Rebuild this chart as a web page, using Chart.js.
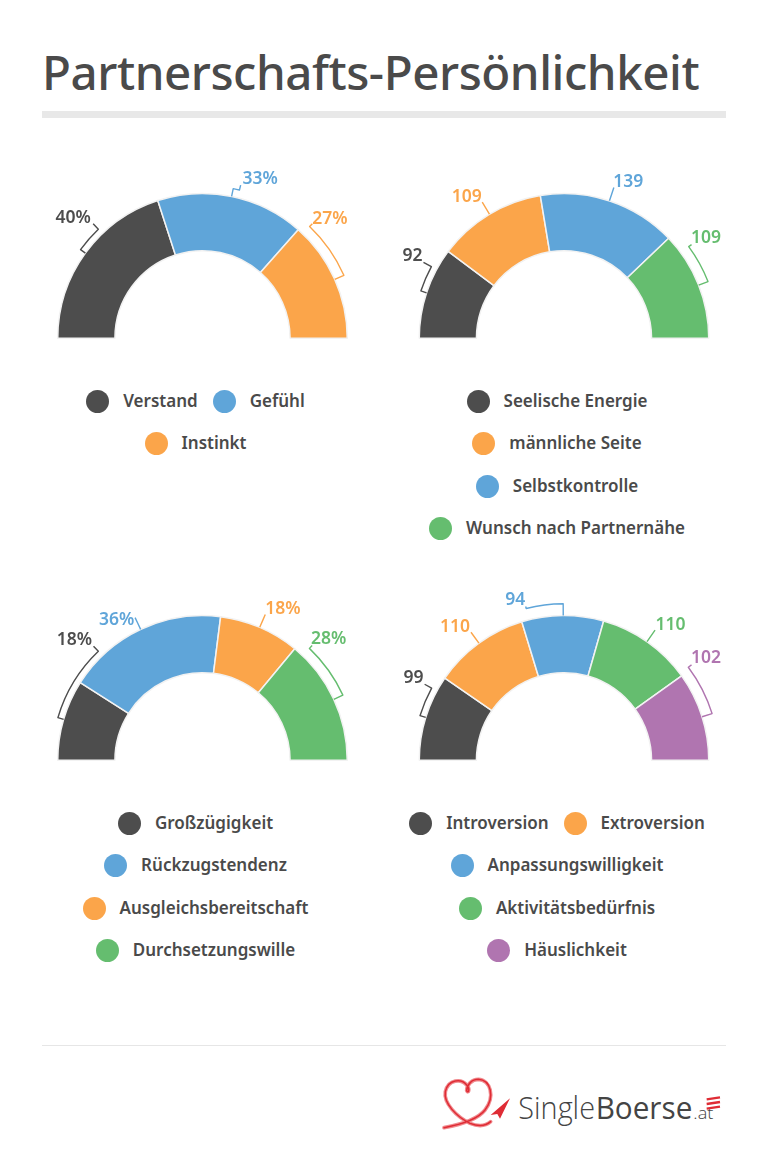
<!DOCTYPE html>
<html lang="de">
<head>
<meta charset="utf-8">
<title>Partnerschafts-Persönlichkeit</title>
<script src="https://cdn.jsdelivr.net/npm/chart.js@4"></script>
<style>
  html, body { margin: 0; padding: 0; background: #fff; }
  body { position: relative; width: 768px; height: 1166px; overflow: hidden; font-family: "Noto Sans", sans-serif; color: #4a4a4a; }
  h1 { position: absolute; left: 42px; top: 37px; margin: 0; font-size: 47.5px; line-height: 70px; font-weight: 500; letter-spacing: -0.45px; white-space: nowrap; }
  .rule { position: absolute; left: 42px; width: 684px; }
  .rule.top { top: 111px; height: 7px; background: #e8e8e8; }
  .rule.bottom { top: 1045px; height: 1px; background: #e6e6e6; }
  canvas { position: absolute; }
  .legend { position: absolute; width: 320px; display: flex; flex-wrap: wrap; justify-content: center; gap: 19.6px 15px; font-size: 17px; font-weight: 600; line-height: 23px; }
  .legend div { display: flex; white-space: nowrap; }
  .legend i { width: 23px; height: 23px; border-radius: 50%; margin-right: 14px; }
  .legend span { position: relative; top: -1px; }
  svg { position: absolute; left: 420px; top: 1060px; }
</style>
</head>
<body>
<h1>Partnerschafts-Persönlichkeit</h1>
<div class="rule top"></div>

<canvas id="chart1"></canvas>
<canvas id="chart2"></canvas>
<canvas id="chart3"></canvas>
<canvas id="chart4"></canvas>
<div class="legend" id="legend1"></div>
<div class="legend" id="legend2"></div>
<div class="legend" id="legend3"></div>
<div class="legend" id="legend4"></div>

<div class="rule bottom"></div>
<svg width="320" height="90" viewBox="0 0 960 270">
  <g fill="none" stroke-linecap="round">
    <path d="M72 203 C110 196 170 182 195 150 C226 110 212 60 175 58 C155 58 140 75 140 92 C144 102 152 88 140 75 C125 56 85 56 76 95 C70 130 110 170 150 190 C170 198 195 200 212 185" stroke="#f08a8e" stroke-width="11"/>
    <path d="M72 203 C110 196 170 182 195 150 C226 110 212 60 175 58 C155 58 140 75 140 92 C144 102 152 88 140 75 C125 56 85 56 76 95 C70 130 110 170 150 190 C170 198 195 200 212 185" stroke="#df2c35" stroke-width="4.5"/>
  </g>
  <path d="M270 115 L212 165 L232 162 L240 176 Z" fill="#df2c35"/>
  <g font-family="Open Sans, sans-serif" fill="#444">
    <text x="295" y="178" font-size="94" font-weight="300" textLength="230" lengthAdjust="spacingAndGlyphs">Single</text>
    <text x="527" y="178" font-size="94" font-weight="400" textLength="290" lengthAdjust="spacingAndGlyphs">Boerse</text>
    <text x="820" y="178" font-size="48" font-weight="300" textLength="60" lengthAdjust="spacingAndGlyphs">.at</text>
  </g>
  <path d="M860 118 L900 112 M860 132 L900 126 M860 146 L900 140" stroke="#df2c35" stroke-width="7" fill="none"/>
</svg>

<script>
// colours used in the picture
const dark = '#4d4d4d';
const blue = '#5fa5d9';
const orange = '#fba54a';
const green = '#65bd6f';
const purple = '#b075b0';

// chart 1
const labels1 = ['Verstand', 'Gefühl', 'Instinkt'];
const values1 = [40, 33, 27];
const colors1 = [dark, blue, orange];

// chart 2
const labels2 = ['Seelische Energie', 'männliche Seite', 'Selbstkontrolle', 'Wunsch nach Partnernähe'];
const values2 = [92, 109, 139, 109];
const colors2 = [dark, orange, blue, green];

// chart 3
const labels3 = ['Großzügigkeit', 'Rückzugstendenz', 'Ausgleichsbereitschaft', 'Durchsetzungswille'];
const values3 = [18, 36, 18, 28];
const colors3 = [dark, blue, orange, green];

// chart 4
const labels4 = ['Introversion', 'Extroversion', 'Anpassungswilligkeit', 'Aktivitätsbedürfnis', 'Häuslichkeit'];
const values4 = [99, 110, 94, 110, 102];
const colors4 = [dark, orange, blue, green, purple];

// callout brackets: angles in degrees from the left end of the half ring,
// offset = gap to the ring, tail = radial stub, dx/dy = label centre from the stub end
const callouts1 = [
  { a0: 36, a1: 46.3, offset: 6, tail: 7.5, dx: -20, dy: -6 },
  { a0: 101.6, a1: 104, offset: 8, tail: 5, dx: 19.5, dy: -6 },
  { a0: 156, a1: 133.8, offset: 10, tail: 4, dx: 17.5, dy: -5 }
];
const callouts2 = [
  { a0: 18.3, a1: 28.4, offset: 6, tail: 9, dx: -11, dy: -6 },
  { a0: 59, a1: 59, offset: 7, tail: 7, dx: -15.5, dy: -5.5 },
  { a0: 108.3, a1: 108.3, offset: 7, tail: 7, dx: 14.5, dy: -6 },
  { a0: 158.5, a1: 143.7, offset: 10, tail: 3.5, dx: 14.5, dy: -7 }
];
const callouts3 = [
  { a0: 16.4, a1: 46.3, offset: 6, tail: 7, dx: -19, dy: -6.5 },
  { a0: 64.7, a1: 64.7, offset: 7, tail: 6, dx: -18.5, dy: 2.5 },
  { a0: 113.3, a1: 113.3, offset: 7, tail: 7, dx: 17.5, dy: -5.5 },
  { a0: 155.1, a1: 133.7, offset: 10, tail: 4, dx: 16.5, dy: -6 }
];
const callouts4 = [
  { a0: 17.2, a1: 28.6, offset: 6, tail: 8, dx: -11, dy: -6.5 },
  { a0: 54, a1: 54, offset: 7, tail: 6.5, dx: -16, dy: -5 },
  { a0: 89.7, a1: 76, offset: 11.7, tail: 2, dx: -10.5, dy: -6.5 },
  { a0: 125, a1: 125, offset: 7, tail: 7, dx: 15.5, dy: -5.5 },
  { a0: 162.5, a1: 143.2, offset: 10.5, tail: 4, dx: 14.5, dy: -6.5 }
];

// draws bracket and value label for every slice, from the ring's own centre and radius
const calloutPlugin = {
  id: 'callouts',
  afterDatasetsDraw(chart, args, opts) {
    const ctx = chart.ctx;
    const arc = chart.getDatasetMeta(0).data[0];
    const cx = arc.x, cy = arc.y, R = arc.outerRadius;
    const at = (deg, r) => {
      const t = deg * Math.PI / 180;
      return [cx - r * Math.cos(t), cy - r * Math.sin(t)];
    };
    opts.items.forEach((c, i) => {
      const color = chart.data.datasets[0].backgroundColor[i];
      const r = R + c.offset;
      ctx.save();
      ctx.strokeStyle = color;
      ctx.lineWidth = 1.4;
      ctx.lineJoin = 'round';
      ctx.beginPath();
      ctx.moveTo(...at(c.a0, R));
      ctx.lineTo(...at(c.a0, r));
      const t0 = (c.a0 + 180) * Math.PI / 180;
      const t1 = (c.a1 + 180) * Math.PI / 180;
      ctx.arc(cx, cy, r, t0, t1, c.a1 < c.a0);
      const end = at(c.a1, r + c.tail);
      ctx.lineTo(end[0], end[1]);
      ctx.stroke();
      ctx.fillStyle = color;
      ctx.font = '600 17.5px "Noto Sans", sans-serif';
      ctx.textAlign = 'center';
      ctx.textBaseline = 'middle';
      ctx.fillText(chart.data.datasets[0].data[i] + opts.suffix, end[0] + c.dx, end[1] + c.dy);
      ctx.restore();
    });
  }
};

function halfRing(id, labels, values, colors, callouts, suffix, left, top, width) {
  const canvas = document.getElementById(id);
  canvas.style.left = left + 'px';
  canvas.style.top = top + 'px';
  canvas.style.width = width + 'px';
  canvas.style.height = '192px';
  canvas.width = width;
  canvas.height = 192;
  const side = (width - 292.5) / 2;
  new Chart(canvas, {
    type: 'doughnut',
    data: {
      labels: labels,
      datasets: [{ data: values, backgroundColor: colors, borderColor: '#f2f2f2', borderWidth: 1.5 }]
    },
    options: {
      responsive: false,
      animation: false,
      rotation: -90,
      circumference: 180,
      cutout: '60.5%',
      layout: { padding: { left: side, right: side, top: 44.75, bottom: 1 } },
      plugins: {
        legend: { display: false },
        tooltip: { enabled: false },
        callouts: { items: callouts, suffix: suffix }
      }
    },
    plugins: [calloutPlugin]
  });
}

function fillLegend(id, labels, colors, left, top) {
  const box = document.getElementById(id);
  box.style.left = left + 'px';
  box.style.top = top + 'px';
  labels.forEach((name, i) => {
    const item = document.createElement('div');
    const dot = document.createElement('i');
    const text = document.createElement('span');
    dot.style.background = colors[i];
    text.textContent = name;
    item.appendChild(dot);
    item.appendChild(text);
    box.appendChild(item);
  });
}

halfRing('chart1', labels1, values1, colors1, callouts1, '%', 22, 148, 361);
halfRing('chart2', labels2, values2, colors2, callouts2, '', 384, 148, 360);
halfRing('chart3', labels3, values3, colors3, callouts3, '%', 22, 570, 361);
halfRing('chart4', labels4, values4, colors4, callouts4, '', 384, 570, 360);

fillLegend('legend1', labels1, colors1, 35.5, 389.5);
fillLegend('legend2', labels2, colors2, 397, 389.5);
fillLegend('legend3', labels3, colors3, 35.5, 811.5);
fillLegend('legend4', labels4, colors4, 397, 811.5);
</script>
</body>
</html>
